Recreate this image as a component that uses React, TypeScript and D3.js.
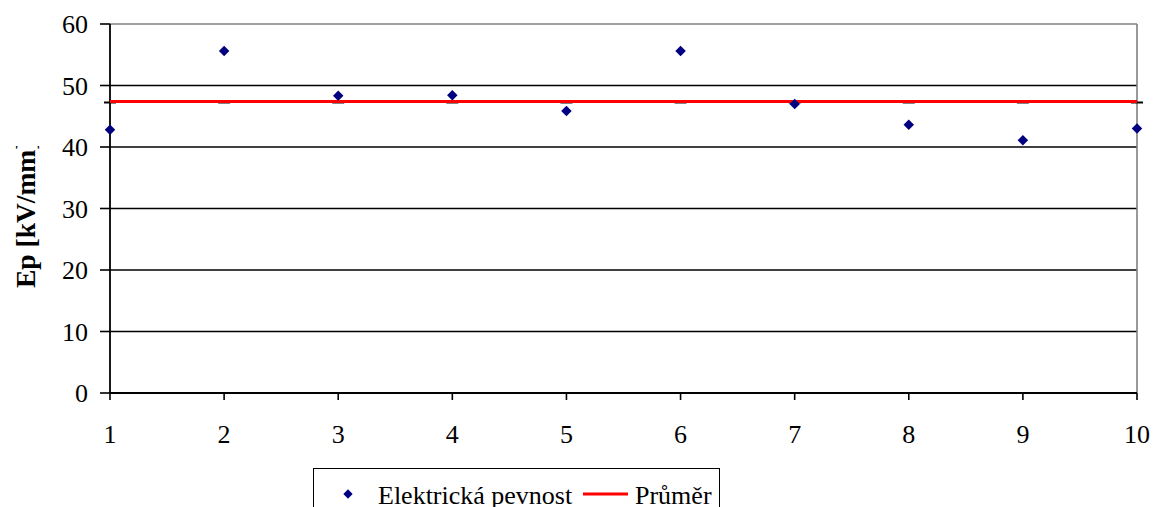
import React from "react";
import * as d3 from "d3";

// Measured breakdown strength per sample
const samples: number[] = [1, 2, 3, 4, 5, 6, 7, 8, 9, 10];
const strength: number[] = [42.8, 55.6, 48.35, 48.4, 45.85, 55.6, 47.0, 43.6, 41.1, 43.0];
const average: number[] = [47.4, 47.4, 47.4, 47.4, 47.4, 47.4, 47.4, 47.4, 47.4, 47.4];
const yTicks: number[] = [0, 10, 20, 30, 40, 50, 60];
const yLabel = "Ep [kV/mm]";
const legendLabels: string[] = ["Elektrická pevnost", "Průměr"];

const W = 1162;
const H = 507;
const plot = { left: 110, right: 1137, top: 24, bottom: 393 };
const FONT = '"Liberation Serif", "DejaVu Serif", serif';
const txt: React.CSSProperties = { fontFamily: FONT, fontSize: "26px" };

export default function App() {
  const x = d3.scaleLinear().domain([1, 10]).range([plot.left, plot.right]);
  const y = d3.scaleLinear().domain([0, 60]).range([plot.bottom, plot.top]);
  const diamond = d3.symbol().type(d3.symbolDiamond2).size(70)();
  const legendDiamond = d3.symbol().type(d3.symbolDiamond2).size(55)();
  const avgLine = d3
    .line<number>()
    .x((_, i) => x(samples[i]))
    .y((d) => y(d))(average);

  return (
    <svg
      width={W}
      height={H}
      style={{ position: "absolute", left: 0, top: 0, background: "#fff" }}
    >
      <defs>
        <clipPath id="ylabel-clip">
          <rect x={0} y={146} width={60} height={200} />
        </clipPath>
      </defs>

      {/* horizontal gridlines */}
      {yTicks.map((t) => (
        <line
          key={`g${t}`}
          x1={plot.left}
          x2={plot.right}
          y1={y(t)}
          y2={y(t)}
          stroke={t === 60 ? "#808080" : "#000"}
          strokeWidth={1.6}
        />
      ))}
      {/* right frame */}
      <line x1={plot.right} x2={plot.right} y1={plot.top} y2={plot.bottom} stroke="#808080" strokeWidth={1.6} />

      {/* y axis */}
      <line x1={plot.left} x2={plot.left} y1={plot.top} y2={plot.bottom} stroke="#000" strokeWidth={1.8} />
      {yTicks.map((t) => (
        <g key={`yt${t}`}>
          <line x1={plot.left - 10} x2={plot.left} y1={y(t)} y2={y(t)} stroke="#000" strokeWidth={1.6} />
          <text x={88} y={y(t) + 9} textAnchor="end" style={txt} fill="#000">
            {t}
          </text>
        </g>
      ))}

      {/* x axis */}
      <line x1={plot.left} x2={plot.right} y1={plot.bottom} y2={plot.bottom} stroke="#000" strokeWidth={1.8} />
      {samples.map((s) => (
        <g key={`xt${s}`}>
          <line x1={x(s)} x2={x(s)} y1={plot.bottom} y2={plot.bottom + 7} stroke="#000" strokeWidth={1.6} />
          <text x={x(s)} y={443} textAnchor="middle" style={txt} fill="#000">
            {s}
          </text>
        </g>
      ))}

      {/* average series: dash markers under the red line */}
      {average.map((v, i) => (
        <line
          key={`am${i}`}
          x1={x(samples[i]) - 6}
          x2={x(samples[i]) + 6}
          y1={y(v) + 1}
          y2={y(v) + 1}
          stroke="#000"
          strokeWidth={2}
        />
      ))}
      <path d={avgLine ?? ""} fill="none" stroke="#ff0000" strokeWidth={3} />

      {/* measured points */}
      {strength.map((v, i) => (
        <path key={`p${i}`} d={diamond ?? ""} transform={`translate(${x(samples[i])},${y(v)})`} fill="#000080" />
      ))}

      {/* y axis title */}
      <g clipPath="url(#ylabel-clip)">
        <text
          transform="translate(35,288) rotate(-90)"
          style={{ ...txt, fontSize: "27.5px", fontWeight: "bold" }}
          fill="#000"
        >
          {yLabel}
        </text>
      </g>

      {/* legend */}
      <rect x={313.5} y={468.5} width={406} height={60} fill="#fff" stroke="#000" strokeWidth={1} />
      <path d={legendDiamond ?? ""} transform="translate(348,494)" fill="#000080" />
      <text x={378} y={504} style={txt} fill="#000">
        {legendLabels[0]}
      </text>
      <line x1={583} x2={628} y1={494} y2={494} stroke="#ff0000" strokeWidth={3} />
      <text x={635} y={504} style={txt} fill="#000">
        {legendLabels[1]}
      </text>
    </svg>
  );
}
